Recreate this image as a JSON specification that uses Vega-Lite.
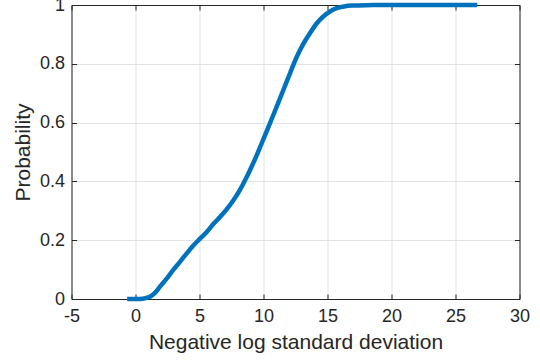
{
  "$schema": "https://vega.github.io/schema/vega-lite/v6.json",
  "width": 448,
  "height": 294,
  "autosize": {"type": "none"},
  "padding": {"left": 71.5, "top": 5, "right": 20.5, "bottom": 61},
  "background": "white",
  "config": {
    "view": {"stroke": null},
    "font": "Liberation Sans",
    "axis": {
      "domainColor": "#262626",
      "domainWidth": 1,
      "tickColor": "#262626",
      "tickSize": -5,
      "gridColor": "#e3e3e3",
      "gridWidth": 1,
      "labelColor": "#262626",
      "labelFont": "Liberation Sans",
      "labelFontSize": 18,
      "titleColor": "#262626",
      "titleFont": "Liberation Sans",
      "titleFontSize": 21,
      "titleFontWeight": "normal"
    }
  },
  "data": {
    "values": [
      {"x": -0.65, "p": 0.0},
      {"x": 0.35, "p": 0.0},
      {"x": 0.8, "p": 0.003},
      {"x": 1.13, "p": 0.008},
      {"x": 1.5, "p": 0.02},
      {"x": 1.91, "p": 0.042},
      {"x": 2.45, "p": 0.07},
      {"x": 2.95, "p": 0.099},
      {"x": 3.5, "p": 0.128},
      {"x": 4.0, "p": 0.155},
      {"x": 4.5, "p": 0.181},
      {"x": 5.06, "p": 0.206},
      {"x": 5.6, "p": 0.23},
      {"x": 6.08, "p": 0.255},
      {"x": 6.6, "p": 0.279},
      {"x": 7.12, "p": 0.305},
      {"x": 7.65, "p": 0.336},
      {"x": 8.16, "p": 0.371},
      {"x": 8.55, "p": 0.403},
      {"x": 8.95, "p": 0.439},
      {"x": 9.4, "p": 0.482},
      {"x": 9.9, "p": 0.534},
      {"x": 10.51, "p": 0.598},
      {"x": 11.0, "p": 0.651},
      {"x": 11.55, "p": 0.711},
      {"x": 12.1, "p": 0.771},
      {"x": 12.6, "p": 0.824},
      {"x": 13.1, "p": 0.867},
      {"x": 13.63, "p": 0.904},
      {"x": 14.15, "p": 0.937},
      {"x": 14.67, "p": 0.961},
      {"x": 15.2, "p": 0.978},
      {"x": 15.72, "p": 0.989},
      {"x": 16.3, "p": 0.995},
      {"x": 16.9, "p": 0.998},
      {"x": 18.0, "p": 0.9995},
      {"x": 20.0, "p": 1.0},
      {"x": 26.7, "p": 1.0}
    ]
  },
  "resolve": {"axis": {"x": "independent", "y": "independent"}},
  "layer": [
    {
      "mark": {"type": "rule", "opacity": 0},
      "encoding": {
        "x": {
          "field": "x", "type": "quantitative",
          "scale": {"domain": [-5, 30], "nice": false, "zero": false},
          "axis": {"orient": "top", "labels": false, "title": null, "grid": false, "values": [-5, 0, 5, 10, 15, 20, 25, 30]}
        },
        "y": {
          "field": "p", "type": "quantitative",
          "scale": {"domain": [0, 1], "nice": false},
          "axis": {"orient": "right", "labels": false, "title": null, "grid": false, "values": [0, 0.2, 0.4, 0.6, 0.8, 1]}
        }
      }
    },
    {
      "mark": {"type": "line", "color": "#0072BD", "strokeWidth": 4.5, "strokeCap": "butt", "interpolate": "monotone", "clip": false},
      "encoding": {
        "x": {
          "field": "x", "type": "quantitative",
          "scale": {"domain": [-5, 30], "nice": false, "zero": false},
          "axis": {"orient": "bottom", "title": "Negative log standard deviation", "grid": true, "values": [-5, 0, 5, 10, 15, 20, 25, 30], "labelExpr": "'' + datum.value", "labelPadding": 13, "titlePadding": 6, "labelFlush": false}
        },
        "y": {
          "field": "p", "type": "quantitative",
          "scale": {"domain": [0, 1], "nice": false},
          "axis": {"orient": "left", "title": "Probability", "grid": true, "values": [0, 0.2, 0.4, 0.6, 0.8, 1], "labelExpr": "'' + datum.value", "labelPadding": 12, "titlePadding": 6, "labelFlush": false}
        }
      }
    }
  ]
}
